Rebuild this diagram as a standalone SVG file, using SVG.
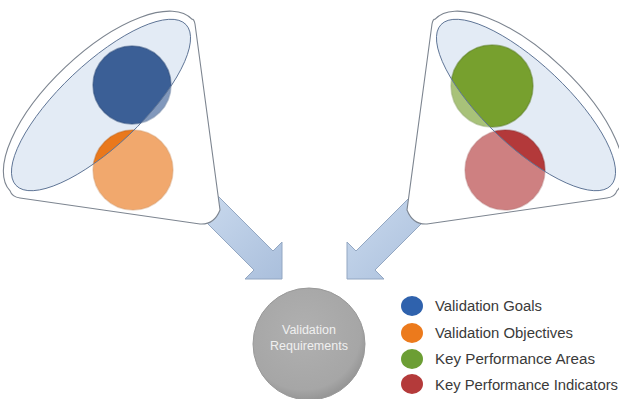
<svg xmlns="http://www.w3.org/2000/svg" width="619" height="399" viewBox="0 0 619 399">
<style>
.rim{fill:#e3ebf5;stroke:none}
.veil{fill:#ffffff;fill-opacity:0.36;fill-rule:evenodd;stroke:none}
.outline{fill:none;stroke:#7d8590;stroke-width:1.1}
.ring{fill:none;stroke:#5f7596;stroke-width:1}
.arrow{fill:url(#arrowGrad);stroke:#93a7c2;stroke-width:1}
.lbl{font-family:"Liberation Sans",Arial,sans-serif;font-size:14px;fill:#3a3a3a}
.ctr{font-family:"Liberation Sans",Arial,sans-serif;font-size:12.5px;fill:#f0f0f0;text-anchor:middle}
</style>
<defs>
<linearGradient id="arrowGrad" x1="0" y1="0" x2="1" y2="1">
<stop offset="0" stop-color="#cadaee"/>
<stop offset="1" stop-color="#aabfdc"/>
</linearGradient>
<radialGradient id="grayGrad" cx="0.45" cy="0.4" r="0.6">
<stop offset="0" stop-color="#b0b0b0"/>
<stop offset="0.85" stop-color="#a6a6a6"/>
<stop offset="1" stop-color="#969696"/>
</radialGradient>
<path id="funnelOuter" d="M191.9,19.1 A125,52 -43.4 0 0 10.1,190.9 Q12,197 20,198 L200,224 Q214,225 220,210 L195,24 Q194,19 191.9,19.1 Z"/>
<path id="innerEll" d="M186,24.6 A117,41 -43.4 1 0 16,185.4 A117,41 -43.4 1 0 186,24.6 Z"/>
<path id="veilPath" d="M191.9,19.1 A125,52 -43.4 0 0 10.1,190.9 Q12,197 20,198 L200,224 Q214,225 220,210 L195,24 Q194,19 191.9,19.1 Z M186,24.6 A117,41 -43.4 1 0 16,185.4 A117,41 -43.4 1 0 186,24.6 Z"/>
</defs>
<g id="connectors">
<polygon class="arrow" points="217.5,195.5 273,251 282,242 282,279 245,279 254,270 198.5,214.5"/>
<polygon class="arrow" points="411.5,195.5 356,251 347,242 347,279 384,279 375,270 430.5,214.5"/>
</g>
<g id="funnel-left">
<use href="#funnelOuter" fill="#ffffff"/>
<use href="#innerEll" class="rim"/>
<circle cx="132" cy="85" r="39" fill="#3b5f96" stroke="#2c4a78" stroke-opacity="0.5" stroke-width="1.5"/>
<circle cx="133" cy="170" r="40" fill="#e9781c" stroke="#b85c12" stroke-opacity="0.4" stroke-width="1.5"/>
<use href="#veilPath" class="veil"/>
<use href="#funnelOuter" class="outline"/>
<use href="#innerEll" class="ring"/>
</g>
<g id="funnel-right">
<g transform="translate(627,0) scale(-1,1)">
<use href="#funnelOuter" fill="#ffffff"/>
<use href="#innerEll" class="rim"/>
</g>
<circle cx="492" cy="86" r="41" fill="#77a02e" stroke="#5a7c20" stroke-opacity="0.5" stroke-width="1.5"/>
<circle cx="505" cy="170" r="40" fill="#b3393a" stroke="#8a2a2a" stroke-opacity="0.4" stroke-width="1.5"/>
<g transform="translate(627,0) scale(-1,1)">
<use href="#veilPath" class="veil"/>
<use href="#funnelOuter" class="outline"/>
<use href="#innerEll" class="ring"/>
</g>
</g>
<g id="requirements">
<circle cx="309" cy="344" r="56" fill="url(#grayGrad)" stroke="#999999" stroke-width="1"/>
<text class="ctr" x="309" y="334">Validation</text>
<text class="ctr" x="309" y="350">Requirements</text>
</g>
<g id="legend">
<ellipse cx="412" cy="306" rx="11" ry="10" fill="#2f62ad"/>
<text class="lbl" x="435" y="310.5" textLength="107" lengthAdjust="spacingAndGlyphs">Validation Goals</text>
<ellipse cx="412" cy="333" rx="11" ry="10" fill="#ec7a1c"/>
<text class="lbl" x="435" y="338" textLength="138" lengthAdjust="spacingAndGlyphs">Validation Objectives</text>
<ellipse cx="412" cy="359" rx="11" ry="10" fill="#6c9e34"/>
<text class="lbl" x="435" y="364" textLength="160" lengthAdjust="spacingAndGlyphs">Key Performance Areas</text>
<ellipse cx="412" cy="384" rx="11" ry="10" fill="#b43a3a"/>
<text class="lbl" x="435" y="389.5" textLength="183" lengthAdjust="spacingAndGlyphs">Key Performance Indicators</text>
</g>
</svg>
